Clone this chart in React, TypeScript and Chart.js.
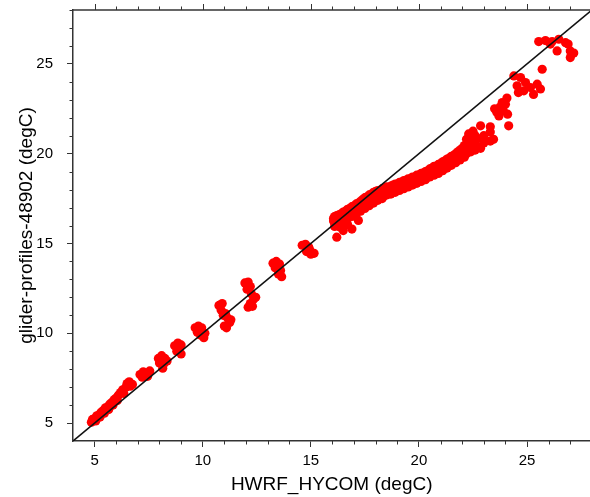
import React, { useEffect, useRef } from "react";
import { Chart, registerables } from "chart.js";

Chart.register(...registerables);

// HWRF_HYCOM (x) vs glider-profiles-48902 (y), degC
const coolWaterPoints: [number, number][] = [
  [4.85, 5.05], [4.9, 5.2], [5.0, 5.25], [5.05, 5.12], [5.1, 5.4], [5.2, 5.45], [5.25, 5.33],
  [5.3, 5.6], [5.4, 5.7], [5.45, 5.55], [5.5, 5.85], [5.6, 5.9], [5.65, 5.75], [5.7, 6.05],
  [5.8, 6.15], [5.85, 6.0], [5.9, 6.3], [6.0, 6.4], [6.05, 6.25], [6.1, 6.55], [6.2, 6.7],
  [6.3, 6.85], [6.35, 6.65], [6.45, 7.0], [6.5, 7.2], [6.6, 7.3], [6.65, 7.05], [6.75, 7.15],
  [7.1, 7.7], [7.25, 7.85], [7.4, 7.75], [7.55, 7.9], [7.2, 7.55], [7.45, 7.6],
  [7.95, 8.6], [8.1, 8.75], [8.25, 8.6], [8.0, 8.35], [8.2, 8.3], [8.35, 8.45], [8.15, 8.05],
  [8.7, 9.3], [8.85, 9.45], [9.0, 9.35], [8.8, 9.0], [9.0, 8.85], [8.9, 9.15],
  [9.65, 10.3], [9.8, 10.4], [9.95, 10.3], [9.75, 10.05], [9.9, 9.9], [10.05, 9.75], [10.1, 10.0], [9.85, 10.15],
  [10.75, 11.55], [10.9, 11.65], [10.85, 11.3], [11.05, 11.1], [11.15, 10.85], [11.25, 10.6],
  [11.0, 10.4], [11.1, 10.3], [11.3, 10.75], [10.95, 11.0],
  [11.95, 12.8], [12.1, 12.85], [12.2, 12.6], [12.05, 12.45], [12.25, 12.2], [12.35, 11.9],
  [12.45, 12.0], [12.2, 11.65], [12.1, 11.45], [12.3, 11.5],
  [13.25, 13.9], [13.4, 14.0], [13.55, 13.85], [13.6, 13.5], [13.5, 13.3], [13.65, 13.15], [13.35, 13.65],
  [14.6, 14.9], [14.75, 14.95], [14.9, 14.8], [14.8, 14.55], [15.0, 14.4], [15.15, 14.45], [14.95, 14.65],
];

const thermoclinePoints: [number, number][] = [
  [16.05, 16.25], [16.05, 16.4], [16.1, 16.15], [16.1, 16.5], [16.2, 16.3], [16.2, 16.55],
  [16.3, 16.2], [16.3, 16.45], [16.3, 16.6], [16.4, 16.35], [16.4, 16.65],
  [16.5, 16.3], [16.5, 16.55], [16.5, 16.75], [16.6, 16.45], [16.6, 16.8],
  [16.7, 16.4], [16.7, 16.65], [16.7, 16.9], [16.8, 16.55], [16.8, 16.95],
  [16.9, 16.5], [16.9, 16.75], [16.9, 17.05], [17.0, 16.7], [17.0, 17.1],
  [17.1, 16.65], [17.1, 16.9], [17.1, 17.2], [17.2, 16.85], [17.2, 17.25],
  [17.3, 16.8], [17.3, 17.05], [17.3, 17.35], [17.4, 17.0], [17.4, 17.45],
  [17.5, 16.95], [17.5, 17.2], [17.5, 17.55], [17.6, 17.15], [17.6, 17.6],
  [17.7, 17.1], [17.7, 17.35], [17.7, 17.7], [17.8, 17.3], [17.8, 17.75],
  [17.9, 17.25], [17.9, 17.5], [17.9, 17.85], [18.0, 17.45], [18.0, 17.9],
  [18.1, 17.4], [18.1, 17.65], [18.1, 17.95], [18.2, 17.55], [18.2, 17.95],
  [18.3, 17.5], [18.3, 17.75], [18.3, 18.05], [18.4, 17.65], [18.4, 18.05],
  [18.5, 17.7], [18.5, 17.9], [18.5, 18.15], [18.6, 17.8], [18.6, 18.1],
  [18.7, 17.75], [18.7, 18.0], [18.7, 18.2], [18.8, 17.9], [18.8, 18.25],
  [18.9, 17.85], [18.9, 18.1], [18.9, 18.3], [19.0, 18.0], [19.0, 18.3],
  [19.1, 17.95], [19.1, 18.2], [19.1, 18.4], [19.2, 18.1], [19.2, 18.4],
  [19.3, 18.05], [19.3, 18.3], [19.3, 18.5], [19.4, 18.2], [19.4, 18.5],
  [19.5, 18.15], [19.5, 18.4], [19.5, 18.6], [19.6, 18.3], [19.6, 18.6],
  [19.7, 18.25], [19.7, 18.5], [19.7, 18.7], [19.8, 18.4], [19.8, 18.7],
  [19.9, 18.35], [19.9, 18.6], [19.9, 18.8], [20.0, 18.5], [20.0, 18.8],
  [20.1, 18.45], [20.1, 18.7], [20.1, 18.9], [20.2, 18.6], [20.2, 18.9],
  [20.3, 18.55], [20.3, 18.8], [20.3, 19.0], [20.4, 18.7], [20.4, 19.05],
  [20.5, 18.7], [20.5, 18.95], [20.5, 19.15], [20.6, 18.85], [20.6, 19.2],
  [20.7, 18.8], [20.7, 19.05], [20.7, 19.3], [20.8, 18.95], [20.8, 19.3],
  [20.9, 18.9], [20.9, 19.2], [20.9, 19.4], [21.0, 19.1], [21.0, 19.45],
  [21.1, 19.05], [21.1, 19.3], [21.1, 19.55], [21.2, 19.25], [21.2, 19.6],
  [21.3, 19.2], [21.3, 19.45], [21.3, 19.7], [21.4, 19.4], [21.4, 19.75],
  [21.5, 19.35], [21.5, 19.6], [21.5, 19.85], [21.6, 19.55], [21.6, 19.9],
  [21.7, 19.5], [21.7, 19.75], [21.7, 20.0], [21.8, 19.7], [21.8, 20.1],
  [21.9, 19.65], [21.9, 19.9], [21.9, 20.2], [22.0, 19.85], [22.0, 20.3],
  [22.1, 19.8], [22.1, 20.1], [22.1, 20.45], [22.2, 20.0], [22.2, 20.4], [22.2, 20.8],
  [22.3, 20.2], [22.3, 20.6], [22.3, 21.1], [22.4, 20.1], [22.4, 20.45], [22.4, 20.9],
  [22.5, 20.3], [22.5, 20.7], [22.5, 21.25], [22.6, 20.2], [22.6, 20.55], [22.6, 21.0],
  [22.7, 20.4], [22.7, 20.85], [22.85, 21.55], [22.85, 20.3], [23.0, 20.6], [23.0, 21.0],
  [23.3, 21.2], [23.3, 20.7], [23.3, 21.5], [23.45, 20.8],
  [16.2, 15.35], [16.36, 15.9], [16.5, 15.72], [16.9, 15.8], [17.2, 16.28], [16.1, 15.95], [16.7, 16.05],
];

const warmWaterPoints: [number, number][] = [
  [23.6, 22.3], [23.75, 22.6], [23.9, 22.4], [24.0, 22.75], [23.7, 22.1], [23.85, 22.85],
  [24.1, 22.2], [24.07, 23.1], [24.15, 21.55], [23.5, 22.5],
  [24.39, 24.33], [24.7, 24.24], [24.54, 23.78], [24.93, 23.96], [25.16, 23.68], [25.47, 23.87],
  [25.62, 23.6], [25.3, 23.3], [24.85, 23.5], [24.6, 23.4], [25.7, 24.7],
  [25.54, 26.24], [25.85, 26.3], [26.16, 26.24], [26.47, 26.37], [26.78, 26.18], [26.9, 26.1],
  [26.39, 25.72], [27.0, 25.72], [27.16, 25.6], [27.0, 25.35], [26.08, 26.1],
];

const referenceLine: [number, number][] = [[4, 4], [28, 28]];

const xTickValues = [5, 10, 15, 20, 25];
const yTickValues = [5, 10, 15, 20, 25];
const xTitle = "HWRF_HYCOM (degC)";
const yTitle = "glider-profiles-48902 (degC)";

const AXIS_COLOR = "#333333";
const FONT = "'Liberation Sans', Arial, Helvetica, sans-serif";

const frameTicks = {
  id: "frameTicks",
  afterDraw(chart: any) {
    const { ctx, chartArea, scales } = chart;
    const { left, right, top, bottom } = chartArea;
    const xs = scales.x;
    const ys = scales.y;
    ctx.save();
    ctx.strokeStyle = AXIS_COLOR;
    ctx.lineWidth = 1.5;
    ctx.beginPath();
    ctx.moveTo(left, top);
    ctx.lineTo(right, top);
    ctx.stroke();
    ctx.lineWidth = 1;
    ctx.beginPath();
    for (let v = Math.ceil(xs.min) + 1; v <= xs.max; v++) {
      const px = Math.round(xs.getPixelForValue(v)) + 0.5;
      const major = v % 5 === 0;
      const len = major ? 6 : 3.5;
      if (!major) {
        ctx.moveTo(px, bottom);
        ctx.lineTo(px, bottom + len);
      }
      ctx.moveTo(px, top);
      ctx.lineTo(px, top - len);
    }
    for (let v = Math.ceil(ys.min) + 1; v <= ys.max; v++) {
      if (v % 5 === 0) continue;
      const py = Math.round(ys.getPixelForValue(v)) + 0.5;
      ctx.moveTo(left, py);
      ctx.lineTo(left - 3.5, py);
    }
    ctx.stroke();
    ctx.restore();
  },
};

const toXY = (pts: [number, number][]) => pts.map(([x, y]) => ({ x, y }));

const clearPadding = (s: any) => {
  s.paddingTop = 0;
  s.paddingBottom = 0;
  s.paddingLeft = 0;
  s.paddingRight = 0;
};

export default function App() {
  const canvasRef = useRef<HTMLCanvasElement | null>(null);

  useEffect(() => {
    if (!canvasRef.current) return;
    Chart.defaults.font.family = FONT;
    const chart = new Chart(canvasRef.current, {
      type: "scatter",
      data: {
        datasets: [
          {
            type: "line",
            data: toXY(referenceLine),
            borderColor: "#111111",
            borderWidth: 1.6,
            pointRadius: 0,
            fill: false,
            order: 0,
          } as any,
          {
            type: "scatter",
            data: toXY([...coolWaterPoints, ...thermoclinePoints, ...warmWaterPoints]),
            backgroundColor: "#ff0000",
            borderWidth: 0,
            pointRadius: 4.6,
            order: 1,
          },
        ],
      },
      options: {
        animation: false,
        responsive: false,
        events: [],
        layout: { padding: { top: 10, right: 0, left: 0, bottom: 0 } },
        plugins: { legend: { display: false }, tooltip: { enabled: false } },
        scales: {
          x: {
            type: "linear",
            min: 4,
            max: 27.93,
            afterBuildTicks: (s: any) => {
              s.ticks = xTickValues.map((value) => ({ value }));
            },
            afterFit: (s: any) => {
              s.height = 56;
              clearPadding(s);
            },
            grid: { drawOnChartArea: false, drawTicks: true, tickLength: 6, color: AXIS_COLOR, lineWidth: 1 },
            border: { display: true, color: AXIS_COLOR, width: 1.5 },
            ticks: { color: "#000", font: { size: 15 }, padding: 5, maxRotation: 0 },
            title: { display: true, text: xTitle, color: "#000", font: { size: 19 }, padding: { top: 0, bottom: 1 } },
          },
          y: {
            type: "linear",
            min: 4,
            max: 28,
            afterBuildTicks: (s: any) => {
              s.ticks = yTickValues.map((value) => ({ value }));
            },
            afterFit: (s: any) => {
              s.width = 73;
              clearPadding(s);
            },
            grid: { drawOnChartArea: false, drawTicks: true, tickLength: 6, color: AXIS_COLOR, lineWidth: 1 },
            border: { display: true, color: AXIS_COLOR, width: 1.5 },
            ticks: { color: "#000", font: { size: 15 }, padding: 14 },
            title: { display: true, text: yTitle, color: "#000", font: { size: 19 }, padding: { top: 15, bottom: 0 } },
          },
        },
      },
      plugins: [frameTicks],
    });
    return () => chart.destroy();
  }, []);

  return (
    <div style={{ position: "absolute", left: 0, top: 0, width: 590, height: 497, overflow: "hidden", background: "#fff" }}>
      <canvas ref={canvasRef} width={595} height={497} style={{ display: "block" }} />
    </div>
  );
}
